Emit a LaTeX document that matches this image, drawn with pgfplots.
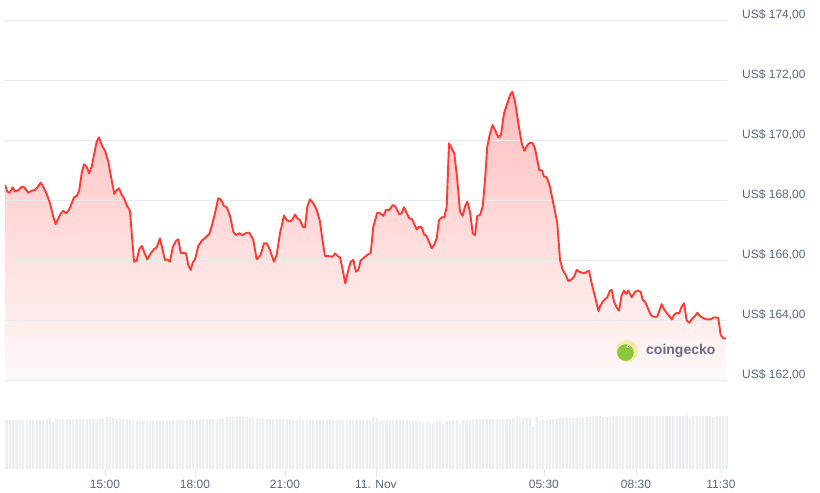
\documentclass[border=0pt]{standalone}
\usepackage{pgfplots}
\pgfplotsset{compat=1.18}
\usepackage{pgfplotstable}
\usepackage{fontspec}
\setmainfont{Liberation Sans}
\definecolor{cgred}{RGB}{255,58,51}
\definecolor{cgtext}{RGB}{88,102,126}
\definecolor{cggrid}{RGB}{230,233,238}
\definecolor{cgvol}{RGB}{234,238,243}
\definecolor{cgtop}{RGB}{255,190,190}
\definecolor{cgbot}{RGB}{254,249,249}
\definecolor{gkring}{RGB}{246,232,166}
\definecolor{gkgreen}{RGB}{140,198,63}
\definecolor{gktext}{RGB}{110,106,130}

\pgfplotstableread{
h p
-0.333 168.50
-0.257 168.28
-0.167 168.24
-0.077 168.42
0.000 168.28
0.110 168.33
0.223 168.44
0.310 168.42
0.443 168.24
0.557 168.31
0.643 168.33
0.723 168.39
0.857 168.58
0.943 168.44
1.057 168.20
1.167 167.89
1.277 167.44
1.357 167.19
1.443 167.39
1.533 167.56
1.610 167.64
1.700 167.56
1.777 167.64
1.857 167.80
1.967 168.09
2.057 168.13
2.143 168.33
2.223 168.89
2.300 169.19
2.390 169.11
2.467 168.89
2.557 169.11
2.633 169.50
2.723 169.94
2.800 170.09
2.890 169.83
3.000 169.64
3.110 169.28
3.200 168.78
3.310 168.20
3.390 168.33
3.467 168.39
3.557 168.17
3.610 168.11
3.723 167.83
3.833 167.64
3.967 165.94
4.057 165.98
4.143 166.36
4.233 166.47
4.323 166.22
4.410 166.02
4.523 166.22
4.633 166.36
4.723 166.42
4.833 166.72
4.923 166.33
5.000 166.00
5.077 166.02
5.167 165.94
5.257 166.42
5.367 166.64
5.443 166.69
5.523 166.24
5.633 166.24
5.700 166.22
5.777 165.83
5.857 165.67
5.923 165.91
6.000 166.02
6.110 166.47
6.223 166.64
6.367 166.76
6.477 166.87
6.557 167.13
6.667 167.56
6.777 168.06
6.857 168.02
6.967 167.80
7.057 167.76
7.167 167.47
7.277 166.94
7.367 166.83
7.477 166.89
7.590 166.83
7.723 166.91
7.810 166.91
7.943 166.67
8.057 166.02
8.190 166.17
8.300 166.56
8.390 166.56
8.500 166.33
8.633 165.94
8.723 166.17
8.833 166.89
8.967 167.48
9.057 167.33
9.167 167.28
9.257 167.36
9.333 167.52
9.410 167.39
9.500 167.33
9.590 167.11
9.667 167.09
9.743 167.78
9.833 168.02
9.943 167.89
10.057 167.67
10.167 167.28
10.257 166.61
10.333 166.13
10.443 166.13
10.590 166.11
10.667 166.22
10.777 166.11
10.833 166.09
10.923 165.67
11.010 165.22
11.110 165.67
11.190 165.94
11.277 166.00
11.367 165.61
11.443 165.67
11.523 165.98
11.610 166.06
11.743 166.17
11.857 166.24
11.943 167.11
12.077 167.58
12.167 167.56
12.277 167.47
12.367 167.67
12.477 167.67
12.590 167.83
12.667 167.80
12.810 167.53
12.890 167.56
12.967 167.76
13.057 167.56
13.143 167.39
13.233 167.36
13.300 167.22
13.390 167.02
13.477 167.11
13.557 167.09
13.633 166.86
13.723 166.80
13.800 166.61
13.890 166.39
13.967 166.50
14.057 166.72
14.133 167.33
14.223 167.42
14.310 167.42
14.390 167.78
14.467 169.89
14.557 169.72
14.643 169.56
14.743 168.67
14.833 167.61
14.923 167.47
15.000 167.78
15.077 167.94
15.167 167.61
15.257 166.89
15.333 166.83
15.410 167.47
15.500 167.50
15.590 167.78
15.667 168.67
15.743 169.78
15.833 170.22
15.923 170.50
16.000 170.33
16.110 170.09
16.200 170.17
16.300 170.89
16.410 171.22
16.500 171.50
16.577 171.61
16.667 171.28
16.777 170.56
16.890 169.89
16.977 169.64
17.077 169.83
17.167 169.91
17.257 169.89
17.333 169.72
17.410 169.33
17.477 169.00
17.567 168.98
17.633 168.78
17.723 168.76
17.833 168.44
17.943 167.89
18.077 167.22
18.167 166.00
18.257 165.67
18.343 165.53
18.443 165.30
18.557 165.36
18.633 165.44
18.723 165.67
18.810 165.61
18.890 165.58
18.977 165.56
19.057 165.61
19.133 165.64
19.223 165.22
19.333 164.78
19.450 164.30
19.500 164.45
19.590 164.61
19.667 164.69
19.743 164.76
19.833 164.98
19.890 165.00
19.967 164.61
20.057 164.42
20.133 164.31
20.223 164.83
20.300 164.98
20.367 164.87
20.443 164.98
20.557 164.76
20.667 164.94
20.777 164.98
20.857 164.94
20.923 164.67
21.000 164.61
21.077 164.44
21.190 164.17
21.277 164.11
21.410 164.11
21.477 164.31
21.557 164.53
21.633 164.36
21.723 164.24
21.810 164.13
21.890 164.02
21.967 164.17
22.057 164.24
22.133 164.22
22.223 164.44
22.300 164.56
22.390 163.98
22.477 163.91
22.590 164.06
22.667 164.13
22.743 164.24
22.833 164.13
22.943 164.06
23.057 164.02
23.190 164.02
23.277 164.08
23.390 164.09
23.443 164.06
23.523 163.50
23.610 163.39
23.700 163.39
}\pricedata

\pgfplotstableread{
v
49
49
49
49
49
49
49
49
49
49
49
49
50
51
47
50
50
50
50
50
50
50
50
50
50
50
50
50
51
51
52
52
51
50
50
50
50
49
49
49
49
48
48
48
48
48
48
48
48
48
49
49
49
49
49
50
49
49
50
50
50
50
50
50
51
51
52
52
52
52
52
52
52
51
52
51
51
50
50
50
50
50
50
50
50
50
49
49
50
49
49
49
49
49
49
49
49
50
49
49
49
49
49
49
49
49
49
49
49
49
51
51
49
49
49
49
49
49
49
49
49
49
48
48
47
47
47
47
47
48
48
45
48
48
49
49
45
49
49
49
50
50
50
50
50
50
50
50
50
50
50
50
51
52
51
51
51
51
42
52
49
49
49
50
50
50
51
51
51
51
51
51
51
51
52
52
53
53
53
52
52
52
53
53
53
53
53
53
53
53
53
53
53
53
53
53
53
53
53
53
53
53
53
53
54
51
53
53
53
53
53
53
52
53
53
53
53
}\voldata

\pgfplotsset{priceframe/.style={
  at={(5pt,-20pt)}, anchor=north west,
  scale only axis, width=722pt, height=360pt,
  xmin=-0.333, xmax=23.733, ymin=162, ymax=174,
  enlargelimits=false,
  axis line style={draw=none},
  xtick=\empty,
  major tick length=0pt,
  clip=true,
}}

\begin{document}
\begin{tikzpicture}[x=1pt,y=1pt]
\path[use as bounding box] (0,0) rectangle (820,-493);
% price axis: area and grid (grid drawn over the area)
\begin{axis}[
  priceframe,
  axis on top,
  ytick={162,164,166,168,170,172,174},
  yticklabels={{US\$ 162,00},{US\$ 164,00},{US\$ 166,00},{US\$ 168,00},{US\$ 170,00},{US\$ 172,00},{US\$ 174,00}},
  ytick pos=right,
  yticklabel style={anchor=west, inner sep=0pt, xshift=15pt, yshift=5pt, font=\fontsize{12}{14}\selectfont, text=cgtext},
  ymajorgrids, grid style={cggrid, line width=0.8pt},
]
\addplot[draw=none, top color=cgtop, bottom color=cgbot, forget plot] table[x=h,y=p] {\pricedata} -- (axis cs:23.700,162) -- (axis cs:-0.333,162) -- cycle;
\end{axis}
% price axis: line on top
\begin{axis}[priceframe, ytick=\empty]
\addplot[cgred, line width=1.9pt, line join=round, no marks] table[x=h,y=p] {\pricedata};
\end{axis}
% volume axis
\begin{axis}[
  at={(5pt,-469pt)}, anchor=south west,
  scale only axis, width=722pt, height=55pt,
  xmin=-0.333, xmax=23.733, ymin=0, ymax=55,
  enlargelimits=false,
  axis line style={draw=none},
  axis x line*=bottom,
  ytick=\empty,
  xtick={3,6,9,12.03,17.63,20.7,23.53},
  xticklabels={15:00,18:00,21:00,11. Nov,05:30,08:30,11:30},
  tick align=outside,
  major tick length=8pt,
  tick style={cggrid, line width=0.8pt},
  xticklabel style={inner sep=0pt, yshift=-3pt, font=\fontsize{12}{14}\selectfont, text=cgtext},
  clip=false,
]
\addplot[ybar, bar width=2.3pt, fill=cgvol, draw=none] table[x expr=\coordindex/9-0.278, y index=0] {\voldata};
\end{axis}
% coingecko watermark
\fill[gkring] (627,-351) circle (11);
\fill[gkgreen] (625.5,-352.5) circle (8.3);
\fill[white] (628,-346.5) circle (1.6);
\fill[black!70] (628.3,-346.5) circle (0.7);
\node[anchor=west, inner sep=0pt, text=gktext, font=\fontsize{14}{16}\selectfont\bfseries] at (646,-351) {coingecko};
\end{tikzpicture}
\end{document}
